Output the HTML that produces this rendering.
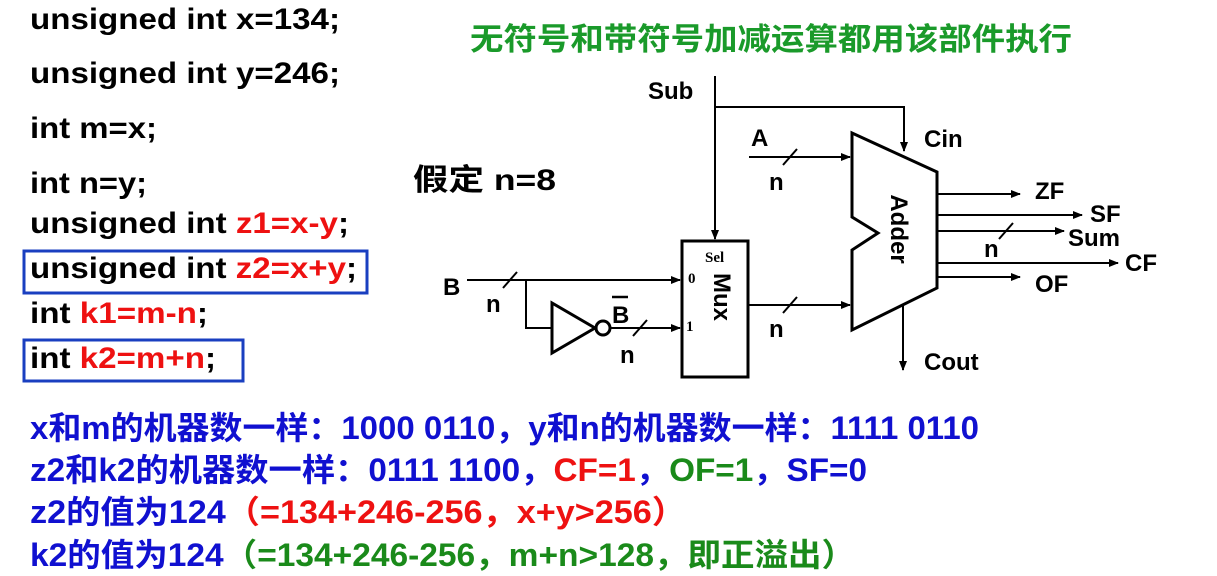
<!DOCTYPE html>
<html><head><meta charset="utf-8"><style>
html,body{margin:0;padding:0;background:#fff;}
svg{display:block;}
text{font-family:"Liberation Sans","Noto Sans CJK SC",sans-serif;font-weight:bold;}
</style></head><body>
<svg width="1217" height="576" viewBox="0 0 1217 576" xmlns="http://www.w3.org/2000/svg">
<defs>
<marker id="ar" markerWidth="10" markerHeight="8" refX="9" refY="4" orient="auto" markerUnits="userSpaceOnUse">
<path d="M0,0 L10,4 L0,8 Z" fill="#000"/></marker>
</defs>
<g font-size="30" fill="#000">
<text x="30" y="29" textLength="310" lengthAdjust="spacingAndGlyphs">unsigned int x=134;</text>
<text x="30" y="83" textLength="310" lengthAdjust="spacingAndGlyphs">unsigned int y=246;</text>
<text x="30" y="138" textLength="127" lengthAdjust="spacingAndGlyphs">int m=x;</text>
<text x="30" y="193" textLength="117" lengthAdjust="spacingAndGlyphs">int n=y;</text>
<text x="30" y="233" textLength="319" lengthAdjust="spacingAndGlyphs">unsigned int <tspan fill="#ee1111">z1=x-y</tspan>;</text>
<text x="30" y="278" textLength="327" lengthAdjust="spacingAndGlyphs">unsigned int <tspan fill="#ee1111">z2=x+y</tspan>;</text>
<text x="30" y="323" textLength="178" lengthAdjust="spacingAndGlyphs">int <tspan fill="#ee1111">k1=m-n</tspan>;</text>
<text x="30" y="368" textLength="186" lengthAdjust="spacingAndGlyphs">int <tspan fill="#ee1111">k2=m+n</tspan>;</text>
</g>
<rect x="24" y="251" width="343" height="42" fill="none" stroke="#1a3fc0" stroke-width="3"/>
<rect x="24" y="340" width="219" height="41" fill="none" stroke="#1a3fc0" stroke-width="3"/>
<text x="470" y="50" font-size="31" fill="#1a9a2a" textLength="602" lengthAdjust="spacingAndGlyphs">无符号和带符号加减运算都用该部件执行</text>
<text x="413" y="190" font-size="30" fill="#000" textLength="143" lengthAdjust="spacingAndGlyphs">假定 n=8</text>
<g stroke="#000" stroke-width="2" fill="none">
<polyline points="715,76 715,107 904,107 904,151" marker-end="url(#ar)"/>
<line x1="715" y1="107" x2="715" y2="239" marker-end="url(#ar)"/>
<rect x="682" y="241" width="66" height="136" stroke-width="3"/>
<polygon points="852,133 937,172 937,288 852,330 852,250 878,233 852,217" stroke-width="3"/>
<line x1="749" y1="157" x2="850" y2="157" marker-end="url(#ar)"/>
<line x1="783" y1="165" x2="797" y2="149"/>
<line x1="748" y1="305" x2="850" y2="305" marker-end="url(#ar)"/>
<line x1="783" y1="313" x2="797" y2="297"/>
<line x1="467" y1="280" x2="680" y2="280" marker-end="url(#ar)"/>
<line x1="503" y1="288" x2="517" y2="272"/>
<polyline points="526,280 526,328 552,328"/>
<polygon points="552,303 552,353 595,328" stroke-width="3"/>
<ellipse cx="603" cy="328" rx="7" ry="7" stroke-width="3"/>
<line x1="610" y1="328" x2="680" y2="328" marker-end="url(#ar)"/>
<line x1="633" y1="336" x2="647" y2="320"/>
<line x1="937" y1="194" x2="1020" y2="194" marker-end="url(#ar)"/>
<line x1="937" y1="215" x2="1082" y2="215" marker-end="url(#ar)"/>
<line x1="937" y1="231" x2="1064" y2="231" marker-end="url(#ar)"/>
<line x1="999" y1="239" x2="1013" y2="223"/>
<line x1="937" y1="263" x2="1118" y2="263" marker-end="url(#ar)"/>
<line x1="937" y1="277" x2="1020" y2="277" marker-end="url(#ar)"/>
<line x1="903" y1="306" x2="903" y2="370" marker-end="url(#ar)"/>
</g>
<g font-size="24" fill="#000">
<text x="648" y="99">Sub</text>
<text x="751" y="146">A</text>
<text x="769" y="190">n</text>
<text x="924" y="147">Cin</text>
<text x="1035" y="199">ZF</text>
<text x="1090" y="222">SF</text>
<text x="1068" y="246">Sum</text>
<text x="984" y="257">n</text>
<text x="1125" y="271">CF</text>
<text x="1035" y="292">OF</text>
<text x="924" y="370">Cout</text>
<text x="443" y="295">B</text>
<text x="486" y="312">n</text>
<text x="612" y="323">B</text>
<text x="620" y="363">n</text>
<text x="769" y="337">n</text>
<text transform="translate(891,229) rotate(90)" text-anchor="middle">Adder</text>
<text transform="translate(714,297) rotate(90)" text-anchor="middle">Mux</text>
</g>
<line x1="612" y1="297" x2="628" y2="297" stroke="#000" stroke-width="2.5"/>
<g font-size="15" fill="#000">
<text x="705" y="262" style="font-family:'Liberation Serif',serif">Sel</text>
<text x="688" y="283" style="font-family:'Liberation Serif',serif">0</text>
<text x="686" y="331" style="font-family:'Liberation Serif',serif">1</text>
</g>
<g font-size="32">
<text x="30" y="439" fill="#1010d0" textLength="949" lengthAdjust="spacingAndGlyphs">x和m的机器数一样：1000 0110，y和n的机器数一样：1111 0110</text>
<text x="30" y="481" fill="#1010d0" textLength="837" lengthAdjust="spacingAndGlyphs">z2和k2的机器数一样：0111 1100，<tspan fill="#ee1111">CF=1</tspan>，<tspan fill="#1a8a1a">OF=1</tspan>，SF=0</text>
<text x="30" y="523" fill="#1010d0" textLength="656" lengthAdjust="spacingAndGlyphs">z2的值为124<tspan fill="#ee1111">（=134+246-256，x+y&gt;256）</tspan></text>
<text x="30" y="566" fill="#1010d0" textLength="825" lengthAdjust="spacingAndGlyphs">k2的值为124<tspan fill="#1a8a1a">（=134+246-256，m+n&gt;128，即正溢出）</tspan></text>
</g>
</svg>
</body></html>
